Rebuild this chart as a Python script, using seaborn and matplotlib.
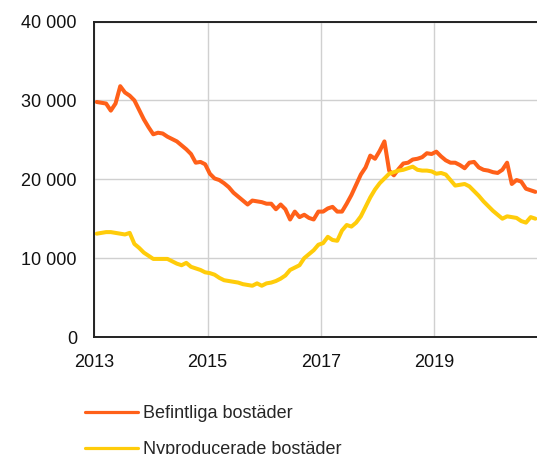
import numpy as np
import pandas as pd
import matplotlib
matplotlib.use('Agg')
import matplotlib.pyplot as plt
from matplotlib.ticker import FuncFormatter
import seaborn as sns

# monthly values, Jan 2013 - Oct 2020
befintliga = [
    29800, 29700, 29600, 28700, 29600, 31800, 31000, 30600, 30000, 28800, 27600, 26600,
    25700, 25900, 25800, 25400, 25100, 24800, 24300, 23800, 23200, 22100, 22200, 21900,
    20700, 20100, 19900, 19500, 19000, 18300, 17800, 17300, 16800, 17300, 17200, 17100,
    16900, 16900, 16200, 16800, 16200, 14900, 15900, 15200, 15500, 15100, 14900, 15900,
    15900, 16300, 16500, 15900, 15900, 16900, 18000, 19300, 20600, 21500, 23000, 22600,
    23600, 24800, 21100, 20500, 21300, 22000, 22100, 22500, 22600, 22800, 23300, 23200,
    23500, 22900, 22400, 22100, 22100, 21800, 21400, 22100, 22200, 21500, 21200, 21100,
    20900, 20800, 21200, 22100, 19400, 19900, 19700, 18800, 18600, 18400,
]
nyproducerade = [
    13100, 13200, 13300, 13300, 13200, 13100, 13000, 13200, 11800, 11300, 10700, 10300,
    9900, 9900, 9900, 9900, 9600, 9300, 9100, 9400, 8900, 8700, 8500, 8200,
    8100, 7900, 7500, 7200, 7100, 7000, 6900, 6700, 6600, 6500, 6800, 6500,
    6800, 6900, 7100, 7400, 7800, 8500, 8800, 9100, 10000, 10500, 11000, 11700,
    11900, 12700, 12300, 12200, 13500, 14200, 14000, 14500, 15300, 16500, 17700, 18700,
    19500, 20100, 20700, 20900, 21100, 21200, 21400, 21600, 21200, 21100, 21100, 21000,
    20700, 20800, 20600, 19900, 19200, 19300, 19400, 19100, 18500, 17900, 17200, 16600,
    16000, 15500, 15000, 15300, 15200, 15100, 14700, 14500, 15200, 15000,
]
series_names = ["Befintliga bostäder", "Nyproducerade bostäder"]
colors = ["#ff6019", "#ffcc0a"]
year_ticks = [2013, 2015, 2017, 2019]
y_ticks = [0, 10000, 20000, 30000, 40000]

# months placed mid-month as decimal years
n = len(befintliga)
t = 2013 + (np.arange(n) + 0.5) / 12
df = pd.DataFrame({
    "t": np.concatenate([t, t]),
    "value": befintliga + nyproducerade,
    "serie": [series_names[0]] * n + [series_names[1]] * n,
})

sns.set_style("white")
plt.rcParams['font.family'] = ['Liberation Sans', 'DejaVu Sans']

fig = plt.figure(figsize=(5.37, 4.54), dpi=100)
ax = fig.add_axes([0.1756, 0.2577, 1 - 0.1756, 0.9526 - 0.2577])

sns.lineplot(data=df, x="t", y="value", hue="serie", palette=colors,
             linewidth=2.9, ax=ax, legend=False)

ax.set_xlim(2013, 2020.82)
ax.set_ylim(0, 40000)
ax.set_xticks(year_ticks)
ax.set_xticklabels([str(y) for y in year_ticks])
ax.set_yticks(y_ticks)
ax.yaxis.set_major_formatter(FuncFormatter(lambda v, p: f"{int(v):,}".replace(",", " ")))
ax.grid(True, color="#d0d0d0", linewidth=1)
ax.set_axisbelow(True)
ax.set_xlabel("")
ax.set_ylabel("")
ax.tick_params(axis="both", length=0, labelsize=13, colors="#111111")
ax.tick_params(axis="y", pad=12.5)
ax.tick_params(axis="x", pad=12)
for s in ["left", "bottom", "top"]:
    ax.spines[s].set_color("#222222")
    ax.spines[s].set_linewidth(1.4)
ax.spines["right"].set_visible(False)

handles = [plt.Line2D([], [], color=c, linewidth=2.3) for c in colors]
fig.legend(handles, series_names, loc="upper left", bbox_to_anchor=(0.159, 0.107),
           frameon=False, fontsize=13, handlelength=2.9, handletextpad=0.3,
           labelspacing=1.02, borderpad=0, borderaxespad=0)

fig.savefig("out.png", dpi=100)
